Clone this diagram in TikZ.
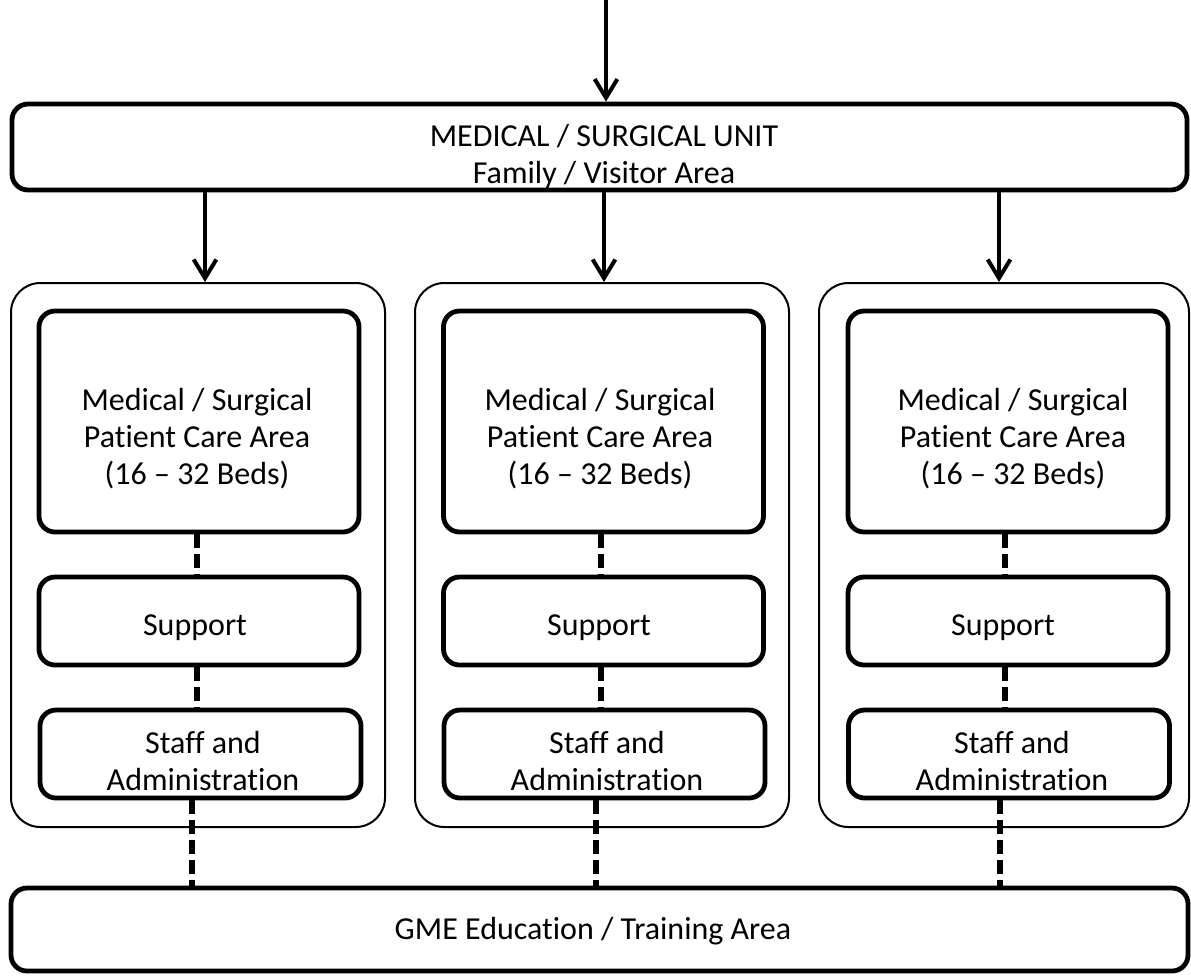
\documentclass[tikz,border=0pt]{standalone}
\usepackage{fontspec}
\setmainfont{Carlito}[Ligatures=NoCommon]
\usetikzlibrary{arrows.meta}
\begin{document}
\begin{tikzpicture}[x=0.75pt,y=-0.75pt,
  thickbox/.style={draw=black,line width=3.6pt,rounded corners=12pt,inner sep=0pt,fill=white},
  outerbox/.style={draw=black,line width=1.5pt,rounded corners=22pt,inner sep=0pt},
  arr/.style={line width=3pt,-{Straight Barb[length=14pt,width=17pt,line width=3pt]}},
  dashline/.style={line width=3.8pt,dash pattern=on 10pt off 5pt},
  lbl/.style={align=center,inner sep=0pt,font=\fontsize{24}{27.75}\selectfont}]
\useasboundingbox (0,0) rectangle (1191,976);
% top unit
\node[thickbox,minimum width=1175*0.75pt,minimum height=86*0.75pt] (top) at (599.5,147) {};
\coordinate (entry) at (606,0);
\draw[arr] (entry) -- (entry |- top.north);
% outer boxes
\node[outerbox,minimum width=374*0.75pt,minimum height=544*0.75pt] (outL) at (198,555) {};
\node[outerbox,minimum width=374*0.75pt,minimum height=544*0.75pt] (outM) at (602,555) {};
\node[outerbox,minimum width=370*0.75pt,minimum height=544*0.75pt] (outR) at (1004,555) {};
% care boxes
\node[thickbox,minimum width=320*0.75pt,minimum height=221*0.75pt] (careL) at (199,421.5) {};
\node[thickbox,minimum width=320*0.75pt,minimum height=221*0.75pt] (careM) at (603.5,421.5) {};
\node[thickbox,minimum width=320*0.75pt,minimum height=221*0.75pt] (careR) at (1008,421.5) {};
% support boxes
\node[thickbox,minimum width=320*0.75pt,minimum height=88*0.75pt] (supL) at (199,621) {};
\node[thickbox,minimum width=320*0.75pt,minimum height=88*0.75pt] (supM) at (603.5,621) {};
\node[thickbox,minimum width=320*0.75pt,minimum height=88*0.75pt] (supR) at (1008,621) {};
% staff boxes
\node[thickbox,minimum width=321*0.75pt,minimum height=88*0.75pt] (stfL) at (200.5,754) {};
\node[thickbox,minimum width=321*0.75pt,minimum height=88*0.75pt] (stfM) at (604.5,754) {};
\node[thickbox,minimum width=321*0.75pt,minimum height=88*0.75pt] (stfR) at (1009,754) {};
% GME
\node[thickbox,minimum width=1177*0.75pt,minimum height=83*0.75pt] (gme) at (599.5,929.5) {};
% arrows
\draw[arr] ([xshift=7*0.75pt]outL.north |- top.south) -- ([xshift=7*0.75pt]outL.north);
\draw[arr] ([xshift=2*0.75pt]outM.north |- top.south) -- ([xshift=2*0.75pt]outM.north);
\draw[arr] ([xshift=-5*0.75pt]outR.north |- top.south) -- ([xshift=-5*0.75pt]outR.north);
% dashed connectors
\draw[dashline] ([xshift=-2*0.75pt]careL.south) -- ([xshift=-2*0.75pt]supL.north);
\draw[dashline] ([xshift=-2*0.75pt]supL.south) -- ([xshift=-2*0.75pt]supL.south |- stfL.north);
\draw[dashline] ([xshift=-8.5*0.75pt]stfL.south) -- ([xshift=-8.5*0.75pt]stfL.south |- gme.north);
\draw[dashline] ([xshift=-2.5*0.75pt]careM.south) -- ([xshift=-2.5*0.75pt]supM.north);
\draw[dashline] ([xshift=-2.5*0.75pt]supM.south) -- ([xshift=-2.5*0.75pt]supM.south |- stfM.north);
\draw[dashline] ([xshift=-8.5*0.75pt]stfM.south) -- ([xshift=-8.5*0.75pt]stfM.south |- gme.north);
\draw[dashline] ([xshift=-3*0.75pt]careR.south) -- ([xshift=-3*0.75pt]supR.north);
\draw[dashline] ([xshift=-3*0.75pt]supR.south) -- ([xshift=-3*0.75pt]supR.south |- stfR.north);
\draw[dashline] ([xshift=-9*0.75pt]stfR.south) -- ([xshift=-9*0.75pt]stfR.south |- gme.north);
% texts
\node[lbl] (toptxt) at (604,156) {MEDICAL / SURGICAL UNIT\\Family / Visitor Area};
\node[lbl] (careLt) at (197,439) {Medical / Surgical\\Patient Care Area\\(16 – 32 Beds)};
\node[lbl] (careMt) at (600,439) {Medical / Surgical\\Patient Care Area\\(16 – 32 Beds)};
\node[lbl] (careRt) at (1013,439) {Medical / Surgical\\Patient Care Area\\(16 – 32 Beds)};
\node[lbl] (supLt) at (195,628) {Support};
\node[lbl] (supMt) at (599,628) {Support};
\node[lbl] (supRt) at (1003,628) {Support};
\node[lbl] (stfLt) at (203,761) {Staff and\\Administration};
\node[lbl] (stfMt) at (607,761) {Staff and\\Administration};
\node[lbl] (stfRt) at (1012,761) {Staff and\\Administration};
\node[lbl] (gmet) at (593,931) {GME Education / Training Area};
\end{tikzpicture}
\end{document}
